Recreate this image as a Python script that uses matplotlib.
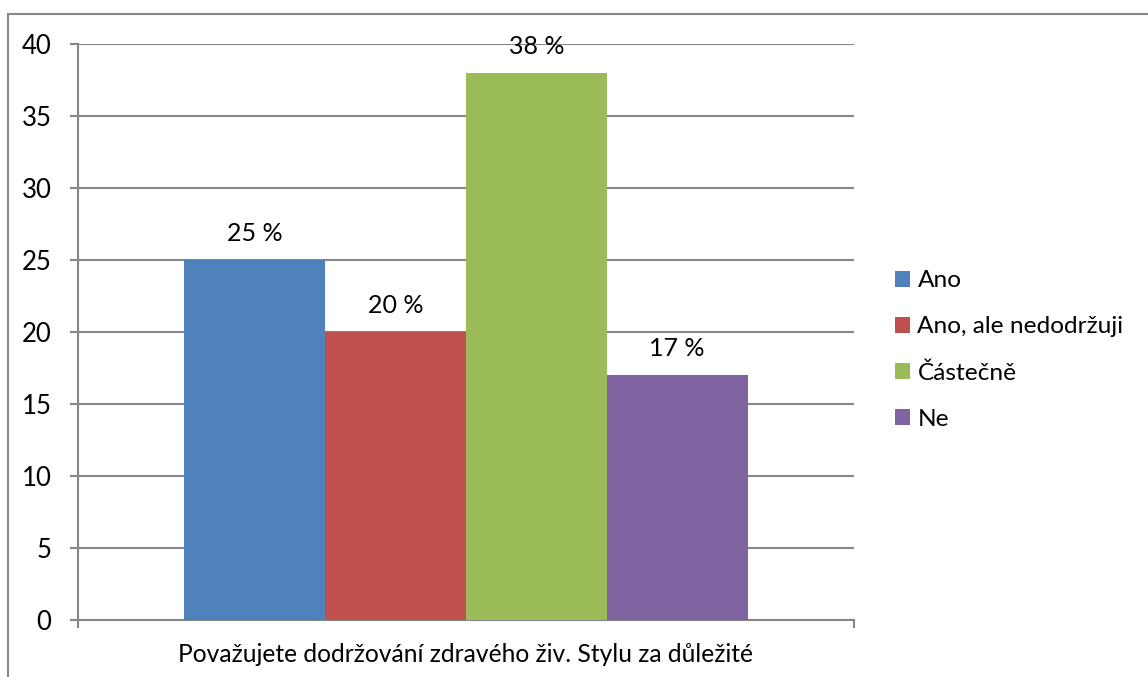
import matplotlib.pyplot as plt
from matplotlib.patches import Rectangle, Patch

plt.rcParams['font.family'] = ['Lato', 'DejaVu Sans']

# data
answers = ['Ano', 'Ano, ale nedodržuji', 'Částečně', 'Ne']
percent = [25, 20, 38, 17]
colors = ['#4F81BD', '#C0504D', '#9BBB59', '#8064A2']
question = 'Považujete dodržování zdravého živ. Stylu za důležité'
yticks = [0, 5, 10, 15, 20, 25, 30, 35, 40]

fig = plt.figure(figsize=(11.48, 6.77), dpi=100)
ax = fig.add_axes([78 / 1148, 57 / 677, 776 / 1148, 576 / 677])

# frame around the whole chart
fig.patches.append(Rectangle((8 / 1148, -0.1), 1.2, 1.1 - 14 / 677,
                             transform=fig.transFigure, fill=False,
                             edgecolor='#888888', linewidth=1.5))

grid_c = '#868686'
w = 0.1814
for i, (name, val, c) in enumerate(zip(answers, percent, colors)):
    x = (i - 1.5) * w
    ax.bar(x, val, width=w, color=c, label=name, zorder=3)
    ax.annotate(f'{val} %', (x, val), xytext=(0, 13.7), textcoords='offset points',
                ha='center', va='baseline', fontsize=18, zorder=4)

ax.set_xlim(-0.5, 0.5)
ax.set_ylim(0, 40)
ax.set_yticks(yticks)
ax.tick_params(axis='y', length=6, width=1.5, color=grid_c, labelsize=18.5, pad=13)
ax.yaxis.grid(True, color=grid_c, linewidth=1.5, zorder=0)

ax.set_xticks([-0.5, 0.5])
ax.set_xticklabels([])
ax.tick_params(axis='x', length=6, width=1.5, color=grid_c, direction='out')
ax.annotate(question, (0.5, 0), xycoords='axes fraction', xytext=(0, -25),
            textcoords='offset points', ha='center', va='center', fontsize=17.7)

for s in ['top', 'right']:
    ax.spines[s].set_visible(False)
for s in ['left', 'bottom']:
    ax.spines[s].set_color(grid_c)
    ax.spines[s].set_linewidth(1.5)

handles = [Patch(facecolor=c, label=n) for n, c in zip(answers, colors)]
fig.legend(handles=handles, loc='center left', bbox_to_anchor=(895 / 1148, 1 - 350 / 677),
           frameon=False, fontsize=17.6, handlelength=0.62, handleheight=0.62,
           handletextpad=0.3, labelspacing=1.02, borderpad=0, borderaxespad=0)

fig.savefig('out.png', dpi=100)
